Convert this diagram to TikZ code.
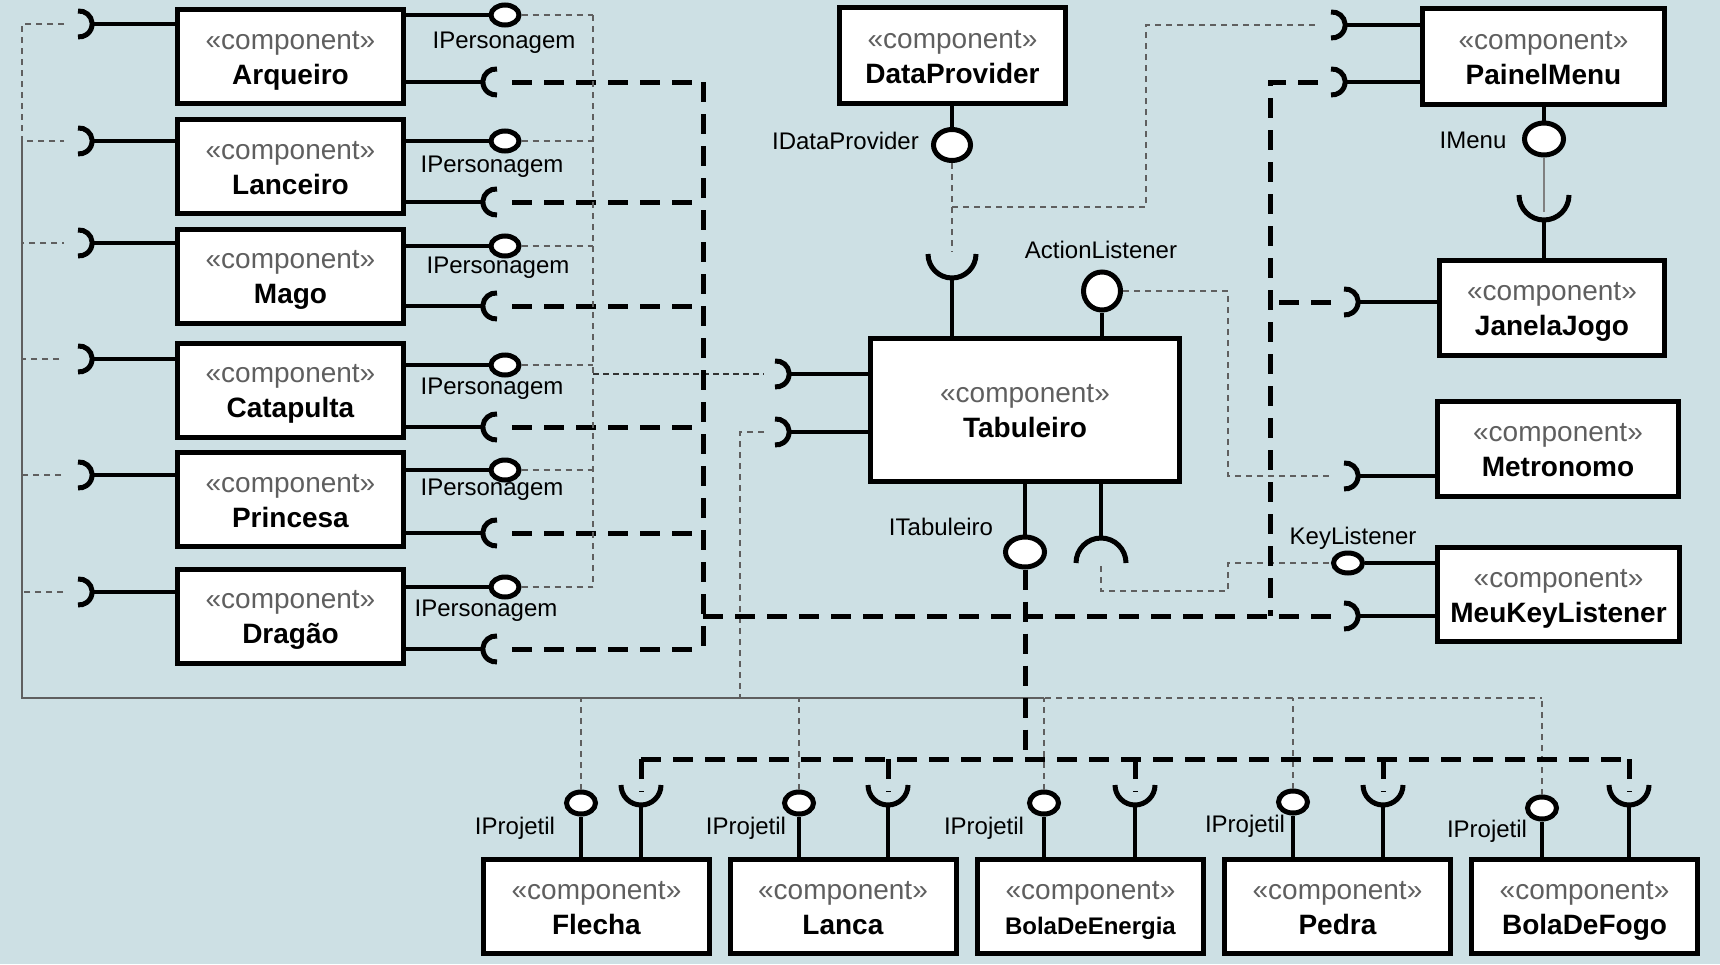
\documentclass[tikz,border=0pt]{standalone}
\usepackage{fontspec}
\setmainfont{Liberation Sans}
\usetikzlibrary{shapes.geometric}
\definecolor{bgc}{RGB}{205,224,228}
\definecolor{stc}{RGB}{95,95,95}
\definecolor{dgc}{RGB}{95,95,95}
\newcommand\cst{{\color{stc}«component»}}
\newcommand\ctxt[1]{\rule{0pt}{26pt}\cst\\\textbf{#1}\rule[-6pt]{0pt}{6pt}}
\begin{document}
\begin{tikzpicture}[x=1pt,y=1pt,
  comp/.style={draw=black, line width=5pt, fill=white, align=center, inner sep=0pt, font=\fontsize{28}{35}\selectfont},
  wire/.style={line width=4.5pt},
  sock/.style={line width=5pt},
  lolli/.style={ellipse, draw=black, line width=5pt, fill=white, inner sep=0pt, minimum width=28pt, minimum height=20pt},
  thindash/.style={draw=dgc, line width=1.6pt, dash pattern=on 6pt off 5pt},
  thickdash/.style={line width=5pt, dash pattern=on 20pt off 12pt},
  lbl/.style={font=\fontsize{24}{28}\selectfont, inner sep=0pt},
]
\fill[bgc] (0,0) rectangle (1720,-964);
\useasboundingbox (0,0) rectangle (1720,-964);

% ---------- left components ----------
\foreach \n/\nm/\cy/\ls/\lp/\rs/\lx/\ly in {
  arq/Arqueiro/56.5/24/15/82/504/43,
  lan/Lanceiro/166.5/141/141/202/492/167,
  mag/Mago/276/243/246/306/498/268,
  cat/Catapulta/390/359/365/427/492/389,
  pri/Princesa/499.5/475/470/533/492/490,
  dra/Dragão/616/592/587/649/486/611}{
  \node[comp, minimum width=226pt, minimum height=94pt] (\n) at (290.5,-\cy) {\ctxt{\nm}};
  % left socket
  \coordinate (\n-L) at (91,-\ls);
  \coordinate (\n-Lo) at (64,-\ls);
  \draw[wire] (\n-L) -- (\n-L -| \n.west);
  \draw[sock] (78,-\ls+13) arc[start angle=95, end angle=-95, radius=13];
  % IPersonagem lollipop
  \node[lolli] (\n-P) at (505,-\lp) {};
  \draw[wire] (\n-P.west) -- (\n-P.west -| \n.east);
  \node[lbl] (\n-lb) at (\lx,-\ly) {IPersonagem};
  % right socket
  \coordinate (\n-R) at (484,-\rs);
  \coordinate (\n-Ro) at (512,-\rs);
  \draw[wire] (\n-R) -- (\n-R -| \n.east);
  \draw[sock] (497,-\rs+13) arc[start angle=85, end angle=275, radius=13];
  % connectors
  \draw[thindash] (\n-P.east) -- (593,-\lp);
  \draw[thickdash] (\n-Ro) -- (703,-\rs);
}

% ---------- DataProvider ----------
\node[comp, minimum width=226pt, minimum height=96pt] (dp) at (952.5,-55.5) {\ctxt{DataProvider}};
\node[lolli, minimum width=37pt, minimum height=31pt] (dp-P) at (952,-145) {};
\draw[wire] (dp-P.north) -- (dp-P.north |- dp.south);
\node[lbl, anchor=east] (dp-lb) at (919,-141) {IDataProvider};

% ---------- Tabuleiro ----------
\node[comp, minimum width=309pt, minimum height=143pt] (tab) at (1025,-410) {\ctxt{Tabuleiro}};
\coordinate (tab-L1) at (788,-374);
\coordinate (tab-L1o) at (764,-374);
\draw[wire] (tab-L1) -- (tab-L1 -| tab.west);
\draw[sock] (775,-361) arc[start angle=95, end angle=-95, radius=13];
\coordinate (tab-L2) at (788,-432);
\coordinate (tab-L2o) at (764,-432);
\draw[wire] (tab-L2) -- (tab-L2 -| tab.west);
\draw[sock] (775,-419) arc[start angle=95, end angle=-95, radius=13];
% top socket
\coordinate (tab-T) at (952,-280);
\coordinate (tab-To) at (952,-252);
\draw[sock] (928,-254) arc[start angle=180, end angle=360, radius=24];
\draw[wire] (tab-T) -- (tab-T |- tab.north);
% ActionListener
\node[lolli, minimum width=37pt, minimum height=38pt] (tab-AL) at (1102,-291) {};
\draw[wire] (tab-AL.south) -- (tab-AL.south |- tab.north);
\node[lbl] (al-lb) at (1101,-250) {ActionListener};
% ITabuleiro
\node[lolli, minimum width=39pt, minimum height=30pt] (tab-IT) at (1025,-552) {};
\draw[wire] (tab-IT.north) -- (tab-IT.north |- tab.south);
\node[lbl] (it-lb) at (941,-527) {ITabuleiro};
% bottom socket
\coordinate (tab-B) at (1101,-538);
\coordinate (tab-Bo) at (1101,-566);
\draw[sock] (1076,-563) arc[start angle=180, end angle=0, radius=25];
\draw[wire] (tab-B) -- (tab-B |- tab.south);

% ---------- PainelMenu ----------
\node[comp, minimum width=242pt, minimum height=96pt] (pm) at (1543.5,-56.5) {\ctxt{PainelMenu}};
\coordinate (pm-L1) at (1344,-25);
\coordinate (pm-L1o) at (1318,-25);
\draw[wire] (pm-L1) -- (pm-L1 -| pm.west);
\draw[sock] (1331,-12) arc[start angle=95, end angle=-95, radius=13];
\coordinate (pm-L2) at (1344,-82);
\coordinate (pm-L2o) at (1318,-82);
\draw[wire] (pm-L2) -- (pm-L2 -| pm.west);
\draw[sock] (1331,-69) arc[start angle=95, end angle=-95, radius=13];
\node[lolli, minimum width=39pt, minimum height=32pt] (pm-P) at (1544,-139) {};
\draw[wire] (pm-P.north) -- (pm-P.north |- pm.south);
\node[lbl] (im-lb) at (1473,-140) {IMenu};

% ---------- JanelaJogo ----------
\node[comp, minimum width=225pt, minimum height=95pt] (jj) at (1552,-308) {\ctxt{JanelaJogo}};
\coordinate (jj-T) at (1544,-220);
\coordinate (jj-To) at (1544,-212);
\draw[sock] (1519,-195) arc[start angle=180, end angle=360, radius=25];
\draw[wire] (jj-T) -- (jj-T |- jj.north);
\coordinate (jj-L) at (1357,-302);
\coordinate (jj-Lo) at (1331,-302);
\draw[wire] (jj-L) -- (jj-L -| jj.west);
\draw[sock] (1344,-289) arc[start angle=95, end angle=-95, radius=13];
\draw[draw=gray, line width=1.5pt] (pm-P.south) -- (jj-To);

% ---------- Metronomo ----------
\node[comp, minimum width=241pt, minimum height=95pt] (met) at (1558,-449) {\ctxt{Metronomo}};
\coordinate (met-L) at (1357,-476);
\coordinate (met-Lo) at (1331,-476);
\draw[wire] (met-L) -- (met-L -| met.west);
\draw[sock] (1344,-463) arc[start angle=95, end angle=-95, radius=13];

% ---------- MeuKeyListener ----------
\node[comp, minimum width=242pt, minimum height=94pt] (mkl) at (1558.5,-594.5) {\ctxt{MeuKeyListener}};
\coordinate (mkl-L) at (1357,-616);
\coordinate (mkl-Lo) at (1331,-616);
\draw[wire] (mkl-L) -- (mkl-L -| mkl.west);
\draw[sock] (1344,-603) arc[start angle=95, end angle=-95, radius=13];
\node[lolli, minimum width=29pt, minimum height=20pt] (mkl-P) at (1348,-563) {};
\draw[wire] (mkl-P.east) -- (mkl-P.east -| mkl.west);
\node[lbl] (kl-lb) at (1353,-538) {KeyListener};

% ---------- bottom components ----------
\foreach \n/\nm/\cx/\px/\sx/\py/\lx/\ly in {
  fle/Flecha/596.5/581/641/803/515/828,
  lnc/Lanca/843/799/888/803/746/828,
  bde/{\fontsize{24}{34}\selectfont BolaDeEnergia}/1090.5/1044/1135/803/984/828,
  ped/Pedra/1337.5/1293/1383/802/1245/826,
  bdf/BolaDeFogo/1584.5/1542/1629/808/1487/831}{
  \node[comp, minimum width=226pt, minimum height=94pt] (\n) at (\cx,-906.5) {\ctxt{\nm}};
  \node[lolli, minimum width=29pt, minimum height=22pt] (\n-P) at (\px,-\py) {};
  \draw[wire] (\n-P.south) -- (\n-P.south |- \n.north);
  \coordinate (\n-S) at (\sx,-805);
  \coordinate (\n-So) at (\sx,-792);
  \draw[sock] (\sx-20,-785) arc[start angle=180, end angle=360, radius=20];
  \draw[wire] (\n-S) -- (\n-S |- \n.north);
  \node[lbl] (\n-lb) at (\lx,-\ly) {IProjetil};
  \draw[thindash] (\n-P.north) -- (\px,-698);
  \draw[thickdash] (\sx,-759) -- (\n-So);
}

% ---------- thin dashed connectors ----------
\coordinate (LB) at (22,-698);
\foreach \n/\ph/\tx in {arq/0/1044,lan/2/1044,mag/4/1044,cat/6/1044,pri/8/1044,dra/10/1044}{
  \draw[thindash, dash phase=\ph pt] (\n-Lo) -| (LB) -- (\tx,-698);
}
\draw[thindash] (LB) -- (LB -| bdf-P.north);
\draw[thindash] (tab-L2o) -- (740,-432) -- (740,-698);
\draw[thindash] (593,-15) -- (593,-587);
\draw[draw=black!80, line width=2pt, dash pattern=on 6pt off 4pt] (593,-374) -- (tab-L1o);
\draw[thindash] (dp-P.south) -- (tab-To);
\draw[thindash] (952,-207) -- (1146,-207) -- (1146,-25) -- (pm-L1o);
\draw[thindash] (tab-AL.east) -- (1228,-291) -- (1228,-476) -- (met-Lo);
\draw[thindash] (tab-Bo) -- (1101,-591) -- (1228,-591) -- (1228,-563) -- (mkl-P.west);

% ---------- thick dashed connectors ----------
\draw[thickdash] (703,-82) -- (703,-649);
\draw[thickdash] (703,-616) -- (mkl-Lo);
\draw[thickdash] (pm-L2o) -- (1270,-82) -- (1270,-616);
\draw[thickdash] (jj-Lo) -- (1270,-302);
\draw[thickdash] (tab-IT.south) -- (1025,-759);
\draw[thickdash] (641,-759) -- (1629,-759);
\end{tikzpicture}
\end{document}
